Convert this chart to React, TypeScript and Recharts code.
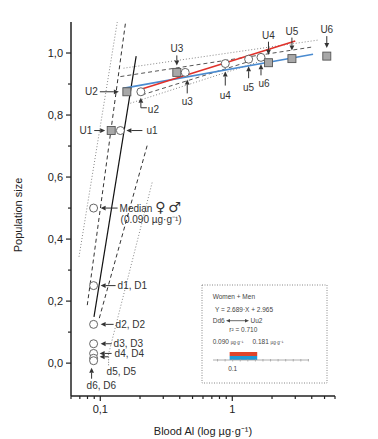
import React from "react";
import { ScatterChart, Scatter, XAxis, YAxis, BarChart, Bar, Cell } from "recharts";

// cumulative population fraction vs blood Al
const upperSquareLabels = ["U1", "U2", "U3", "U4", "U5", "U6"];
const upperSquares = [
  { x: 0.121, y: 0.75 },
  { x: 0.159, y: 0.875 },
  { x: 0.38, y: 0.9375 },
  { x: 1.88, y: 0.96875 },
  { x: 2.83, y: 0.982 },
  { x: 5.2, y: 0.99 },
];

const upperCircleLabels = ["u1", "u2", "u3", "u4", "u5", "u6"];
const upperCircles = [
  { x: 0.142, y: 0.75 },
  { x: 0.203, y: 0.875 },
  { x: 0.44, y: 0.9375 },
  { x: 0.885, y: 0.966 },
  { x: 1.33, y: 0.98 },
  { x: 1.65, y: 0.986 },
];

const lowerLabels = ["Median ♀ ♂", "d1, D1", "d2, D2", "d3, D3", "d4, D4", "d5, D5", "d6, D6"];
const lowerCircles = [
  { x: 0.089, y: 0.5 },
  { x: 0.089, y: 0.25 },
  { x: 0.089, y: 0.125 },
  { x: 0.089, y: 0.0625 },
  { x: 0.089, y: 0.03125 },
  { x: 0.089, y: 0.0156 },
  { x: 0.089, y: 0.0078 },
];
const medianNote = "(0.090 µg·g⁻¹)";

// fitted lines and bands (end points)
const fitLine = [{ x: 0.0896, y: 0.149 }, { x: 0.187, y: 0.99 }];
const leftDashed = [{ x: 0.0797, y: 0.187 }, { x: 0.1555, y: 1.1 }];
const leftDotted = [{ x: 0.069, y: 0.343 }, { x: 0.1345, y: 1.1 }];
const rightDashed = [{ x: 0.0983, y: 0.145 }, { x: 0.227, y: 0.703 }];
const rightDotted = [{ x: 0.115, y: 0.026 }, { x: 0.248, y: 0.585 }];

const womenLine = [{ x: 0.195, y: 0.881 }, { x: 3.0, y: 1.039 }];
const menLine = [{ x: 0.1486, y: 0.886 }, { x: 4.09, y: 0.996 }];
const upperDotted = [{ x: 0.15, y: 0.951 }, { x: 4.51, y: 1.042 }];
const upperDashed = [{ x: 0.142, y: 0.924 }, { x: 4.13, y: 1.02 }];
const lowerDashed = [{ x: 0.207, y: 0.865 }, { x: 1.37, y: 0.974 }];
const lowerDotted = [{ x: 0.169, y: 0.838 }, { x: 1.6, y: 0.972 }];

const xTicks = [0.06, 0.07, 0.08, 0.09, 0.1, 0.2, 0.3, 0.4, 0.5, 0.6, 0.7, 0.8, 0.9, 1, 2, 3, 4, 5, 6];
const yTicks = [0, 0.1, 0.2, 0.3, 0.4, 0.5, 0.6, 0.7, 0.8, 0.9, 1.0];

// inset: range of the two groups
const insetRows = [
  { sex: "Women", range: [0.09, 0.181] },
  { sex: "Men", range: [0.09, 0.181] },
];
const insetColors = ["#e0442a", "#1f9ad8"];
const insetTicks = [0.05, 0.075, 0.1, 0.125, 0.15, 0.175, 0.2, 0.225, 0.25, 0.275, 0.3, 0.325, 0.35];

const FONT = "'Liberation Sans', Arial, Helvetica, sans-serif";
const INK = "#333";

type Layout = {
  arrow?: number[];
  path?: number[];
  dotted?: number[];
  text: [number, number];
  anchor?: "start" | "middle" | "end";
};

const annLayout: Record<string, Layout> = {
  U1: { arrow: [-17, 0, -6, 0], text: [-19, 3.5], anchor: "end" },
  u1: { arrow: [22, 0, 6, 0], text: [26, 3.5] },
  U2: { arrow: [-27, 0, -8, 0], text: [-29, 3.5], anchor: "end" },
  u2: { path: [6, 16, 0, 16, 0, 6], text: [7, 21] },
  U3: { arrow: [0, -17, 0, -7], text: [0, -20], anchor: "middle" },
  u3: { arrow: [2, 21, 2, 7], text: [2, 33], anchor: "middle" },
  U4: { arrow: [0, -21, 0, -8], text: [0, -24], anchor: "middle" },
  U5: { arrow: [0, -21, 0, -8], text: [0, -24], anchor: "middle" },
  U6: { arrow: [0, -20, 0, -8], text: [0, -23], anchor: "middle" },
  u4: { arrow: [0, 22, 0, 8], text: [0, 35], anchor: "middle" },
  u5: { arrow: [0, 19, 0, 7], text: [0, 32], anchor: "middle" },
  u6: { arrow: [0, 18, 0, 7], text: [3, 30], anchor: "middle" },
  "Median ♀ ♂": { arrow: [24, 0, 7, 0], text: [26, 3.5] },
  "d1, D1": { arrow: [22, 0, 7, 0], text: [24, 3.5] },
  "d2, D2": { arrow: [20, 0, 7, 0], text: [22, 3.5] },
  "d3, D3": { arrow: [18, 0, 7, 0], text: [20, 3.5] },
  "d4, D4": { arrow: [18, 0, 6, 0], text: [21, 3.5] },
  "d5, D5": { arrow: [15, -1.5, 6, -1.5], dotted: [15, -1.5, 15, 7], text: [13, 17] },
  "d6, D6": { arrow: [-2, 18, -2, 7], text: [-7, 28] },
};

const annotations = [
  ...upperSquares.map((p, i) => ({ ...p, label: upperSquareLabels[i] })),
  ...upperCircles.map((p, i) => ({ ...p, label: upperCircleLabels[i] })),
  ...lowerCircles.map((p, i) => ({ ...p, label: lowerLabels[i] })),
];

function Arrow({ x1, y1, x2, y2 }: { x1: number; y1: number; x2: number; y2: number }) {
  const a = Math.atan2(y2 - y1, x2 - x1);
  const L = 5;
  const W = 2.4;
  const bx = x2 - L * Math.cos(a);
  const by = y2 - L * Math.sin(a);
  const px = -Math.sin(a) * W;
  const py = Math.cos(a) * W;
  return (
    <g>
      <line x1={x1} y1={y1} x2={bx} y2={by} stroke={INK} strokeWidth={1} />
      <polygon points={`${x2},${y2} ${bx + px},${by + py} ${bx - px},${by - py}`} fill={INK} />
    </g>
  );
}

// gender symbols drawn larger than the text around them
function LabelText({ label }: { label: string }) {
  const parts = label.split(/([♀♂])/);
  return (
    <>
      {parts.map((s, i) =>
        s === "♀" || s === "♂" ? (
          <tspan key={i} fontSize={14} fontFamily="'DejaVu Sans', sans-serif">
            {s}
          </tspan>
        ) : (
          <tspan key={i}>{s}</tspan>
        )
      )}
    </>
  );
}

function AnnotationShape(props: any) {
  const { cx, cy, payload } = props;
  const lay = annLayout[payload.label];
  if (!lay) return <g />;
  const a = lay.arrow;
  const p = lay.path;
  const d = lay.dotted;
  return (
    <g>
      {a && <Arrow x1={cx + a[0]} y1={cy + a[1]} x2={cx + a[2]} y2={cy + a[3]} />}
      {p && (
        <g>
          <line x1={cx + p[0]} y1={cy + p[1]} x2={cx + p[2]} y2={cy + p[3]} stroke={INK} strokeWidth={1} />
          <Arrow x1={cx + p[2]} y1={cy + p[3]} x2={cx + p[4]} y2={cy + p[5]} />
        </g>
      )}
      {d && (
        <line x1={cx + d[0]} y1={cy + d[1]} x2={cx + d[2]} y2={cy + d[3]} stroke="#777" strokeWidth={1} strokeDasharray="1 1.5" />
      )}
      <text
        x={cx + lay.text[0]}
        y={cy + lay.text[1]}
        textAnchor={lay.anchor ?? "start"}
        fontSize={10}
        fontFamily={FONT}
        fill={INK}
      >
        <LabelText label={payload.label} />
      </text>
      {payload.label === lowerLabels[0] && (
        <text x={cx + 27} y={cy + 15} fontSize={10} fontFamily={FONT} fill={INK}>
          {medianNote}
        </text>
      )}
    </g>
  );
}

function SquareShape(props: any) {
  const { cx, cy } = props;
  return <rect x={cx - 4} y={cy - 4} width={8} height={8} fill="#a8a8a8" stroke="#555" strokeWidth={0.9} />;
}

function CircleShape(props: any) {
  const { cx, cy } = props;
  return <circle cx={cx} cy={cy} r={4} fill="#fff" stroke="#555" strokeWidth={0.9} />;
}

const noDot = () => <g />;

function XTick(props: any) {
  const { x, y, payload } = props;
  const v = payload.value as number;
  const major = Math.abs(v - 0.1) < 1e-9 || Math.abs(v - 1) < 1e-9;
  return (
    <g>
      <line x1={x} x2={x} y1={y} y2={y + (major ? 5 : 3)} stroke="#222" strokeWidth={1.2} />
      {major && (
        <text x={x} y={y + 17} textAnchor="middle" fontSize={11} fontFamily={FONT} fill="#222">
          {v === 1 ? "1" : "0,1"}
        </text>
      )}
    </g>
  );
}

function YTick(props: any) {
  const { x, y, payload } = props;
  const v = payload.value as number;
  const major = Math.round(v * 10) % 2 === 0;
  return (
    <g>
      <line x1={x - (major ? 5 : 3)} x2={x} y1={y} y2={y} stroke="#222" strokeWidth={1.2} />
      {major && (
        <text x={x - 8} y={y + 4} textAnchor="end" fontSize={11} fontFamily={FONT} fill="#222">
          {v.toFixed(1).replace(".", ",")}
        </text>
      )}
    </g>
  );
}

function InsetTick(props: any) {
  const { x, y, payload } = props;
  const v = payload.value as number;
  return (
    <g>
      <line x1={x} x2={x} y1={y - 1} y2={y + 1.5} stroke="#999" strokeWidth={0.7} />
      {Math.abs(v - 0.1) < 1e-9 && (
        <text x={x} y={y + 11} textAnchor="middle" fontSize={6.5} fontFamily={FONT} fill="#444">
          0.1
        </text>
      )}
    </g>
  );
}

const dashed = { stroke: "#333", strokeWidth: 1, strokeDasharray: "4 3" };
const dotted = { stroke: "#888", strokeWidth: 1, strokeDasharray: "1 2" };

export default function App() {
  return (
    <div style={{ position: "absolute", left: 0, top: 0, width: 378, height: 439, background: "#fff" }}>
      <ScatterChart width={378} height={439} margin={{ top: 22, right: 43, bottom: 13, left: 31 }}>
        <XAxis
          type="number"
          dataKey="x"
          scale="log"
          domain={[0.06, 6]}
          allowDataOverflow
          ticks={xTicks}
          interval={0}
          tickSize={0}
          tickMargin={0}
          tick={XTick}
          height={30}
          axisLine={{ stroke: "#222", strokeWidth: 1.5 }}
        />
        <YAxis
          type="number"
          dataKey="y"
          domain={[-0.106, 1.1]}
          allowDataOverflow
          ticks={yTicks}
          interval={0}
          tickSize={0}
          tickMargin={0}
          tick={YTick}
          width={40}
          axisLine={{ stroke: "#222", strokeWidth: 1.5 }}
        />
        <Scatter data={leftDotted} line={dotted} shape={noDot} isAnimationActive={false} />
        <Scatter data={rightDotted} line={dotted} shape={noDot} isAnimationActive={false} />
        <Scatter data={leftDashed} line={dashed} shape={noDot} isAnimationActive={false} />
        <Scatter data={rightDashed} line={dashed} shape={noDot} isAnimationActive={false} />
        <Scatter data={fitLine} line={{ stroke: "#111", strokeWidth: 1.2 }} shape={noDot} isAnimationActive={false} />
        <Scatter data={upperDotted} line={dotted} shape={noDot} isAnimationActive={false} />
        <Scatter data={lowerDotted} line={dotted} shape={noDot} isAnimationActive={false} />
        <Scatter data={upperDashed} line={{ ...dashed, stroke: "#555" }} shape={noDot} isAnimationActive={false} />
        <Scatter data={lowerDashed} line={{ ...dashed, stroke: "#555" }} shape={noDot} isAnimationActive={false} />
        <Scatter data={menLine} line={{ stroke: "#4a8bd0", strokeWidth: 1.6 }} shape={noDot} isAnimationActive={false} />
        <Scatter data={womenLine} line={{ stroke: "#e0312a", strokeWidth: 1.6 }} shape={noDot} isAnimationActive={false} />
        <Scatter data={upperSquares} shape={SquareShape} isAnimationActive={false} />
        <Scatter data={upperCircles} shape={CircleShape} isAnimationActive={false} />
        <Scatter data={lowerCircles} shape={CircleShape} isAnimationActive={false} />
        <Scatter data={annotations} shape={AnnotationShape} isAnimationActive={false} />
      </ScatterChart>

      <svg
        width={378}
        height={439}
        style={{ position: "absolute", left: 0, top: 0, pointerEvents: "none" }}
      >
        <text
          x={22}
          y={215}
          transform="rotate(-90 22 215)"
          textAnchor="middle"
          fontSize={11}
          fontFamily={FONT}
          fill="#222"
        >
          Population size
        </text>
        <text x={203} y={435} textAnchor="middle" fontSize={11} fontFamily={FONT} fill="#222">
          Blood Al (log µg·g⁻¹)
        </text>

        <g fontFamily={FONT} fill="#444">
          <rect x={202} y={285} width={125} height={98} fill="#fff" stroke="#888" strokeWidth={1} strokeDasharray="1 1.5" />
          <text x={212.7} y={298.5} fontSize={6.5}>Women + Men</text>
          <text x={215} y={311.5} fontSize={6.5}>Y = 2.689·X + 2.965</text>
          <text x={212.7} y={323} fontSize={6.5}>Dd6</text>
          <line x1={229} y1={320.7} x2={246} y2={320.7} stroke="#444" strokeWidth={0.8} />
          <polygon points="226,320.7 230,318.9 230,322.5" fill="#444" />
          <polygon points="249,320.7 245,318.9 245,322.5" fill="#444" />
          <text x={250.5} y={323} fontSize={6.5}>Uu2</text>
          <text x={229.3} y={331.5} fontSize={6.5}>r² = 0.710</text>
          <text x={212.7} y={344} fontSize={6.5}>
            0.090 <tspan fontSize={4.5}>µg·g⁻¹</tspan>
          </text>
          <text x={252.5} y={344} fontSize={6.5}>
            0.181 <tspan fontSize={4.5}>µg·g⁻¹</tspan>
          </text>
        </g>
      </svg>

      <div style={{ position: "absolute", left: 212.7, top: 351.5, width: 96, height: 22 }}>
        <BarChart
          layout="vertical"
          width={96}
          height={22}
          data={insetRows}
          margin={{ top: 0, right: 0, bottom: 0, left: 0 }}
          barCategoryGap={0}
        >
          <XAxis
            type="number"
            domain={[0.035, 0.352]}
            allowDataOverflow
            ticks={insetTicks}
            interval={0}
            tickSize={0}
            tickMargin={0}
            tick={InsetTick}
            height={14}
            axisLine={{ stroke: "#999", strokeWidth: 0.8 }}
          />
          <YAxis type="category" dataKey="sex" hide />
          <Bar dataKey="range" isAnimationActive={false}>
            {insetRows.map((r, i) => (
              <Cell key={r.sex} fill={insetColors[i]} />
            ))}
          </Bar>
        </BarChart>
      </div>
    </div>
  );
}
